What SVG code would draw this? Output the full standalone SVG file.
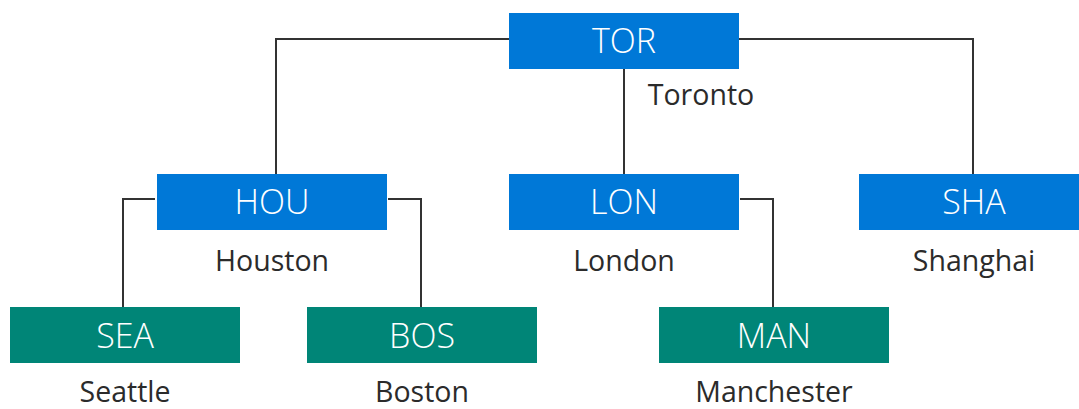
<svg xmlns="http://www.w3.org/2000/svg" width="1079" height="409" viewBox="0 0 1079 409">
  <style>
    .box-blue { fill: #0078d7; }
    .box-teal { fill: #008577; }
    .code { font-family: "Open Sans", "Noto Sans", "Liberation Sans", sans-serif; font-weight: 300; font-size: 34px; fill: #ffffff; text-anchor: middle; }
    .name { font-family: "Open Sans", "Noto Sans", "Liberation Sans", sans-serif; font-weight: 400; font-size: 28.5px; fill: #2b2b2b; text-anchor: middle; }
    .link { fill: none; stroke: #333333; stroke-width: 2; }
  </style>
  <rect width="1079" height="409" fill="#ffffff"/>

  <!-- connectors -->
  <g id="connectors">
    <path class="link" d="M509,39 H276 V174"/>
    <path class="link" d="M739,39 H973 V174"/>
    <path class="link" d="M624,69 V174"/>
    <path class="link" d="M155,199 H123 V307"/>
    <path class="link" d="M388,199 H421 V307"/>
    <path class="link" d="M740,199 H773 V307"/>
  </g>

  <!-- top level -->
  <g id="node-tor">
    <rect class="box-blue" x="509" y="13" width="230" height="56"/>
    <text class="code" x="624" y="53">TOR</text>
    <text class="name" x="701" y="105">Toronto</text>
  </g>

  <!-- second level -->
  <g id="node-hou">
    <rect class="box-blue" x="157" y="174" width="230" height="56"/>
    <text class="code" x="272" y="214">HOU</text>
    <text class="name" x="272" y="271">Houston</text>
  </g>
  <g id="node-lon">
    <rect class="box-blue" x="509" y="174" width="230" height="56"/>
    <text class="code" x="624" y="214">LON</text>
    <text class="name" x="624" y="271">London</text>
  </g>
  <g id="node-sha">
    <rect class="box-blue" x="859" y="174" width="230" height="56"/>
    <text class="code" x="974" y="214">SHA</text>
    <text class="name" x="974" y="271">Shanghai</text>
  </g>

  <!-- third level -->
  <g id="node-sea">
    <rect class="box-teal" x="10" y="307" width="230" height="56"/>
    <text class="code" x="125" y="348">SEA</text>
    <text class="name" x="125" y="402">Seattle</text>
  </g>
  <g id="node-bos">
    <rect class="box-teal" x="307" y="307" width="230" height="56"/>
    <text class="code" x="422" y="348">BOS</text>
    <text class="name" x="422" y="402">Boston</text>
  </g>
  <g id="node-man">
    <rect class="box-teal" x="659" y="307" width="230" height="56"/>
    <text class="code" x="774" y="348">MAN</text>
    <text class="name" x="774" y="402">Manchester</text>
  </g>
</svg>
